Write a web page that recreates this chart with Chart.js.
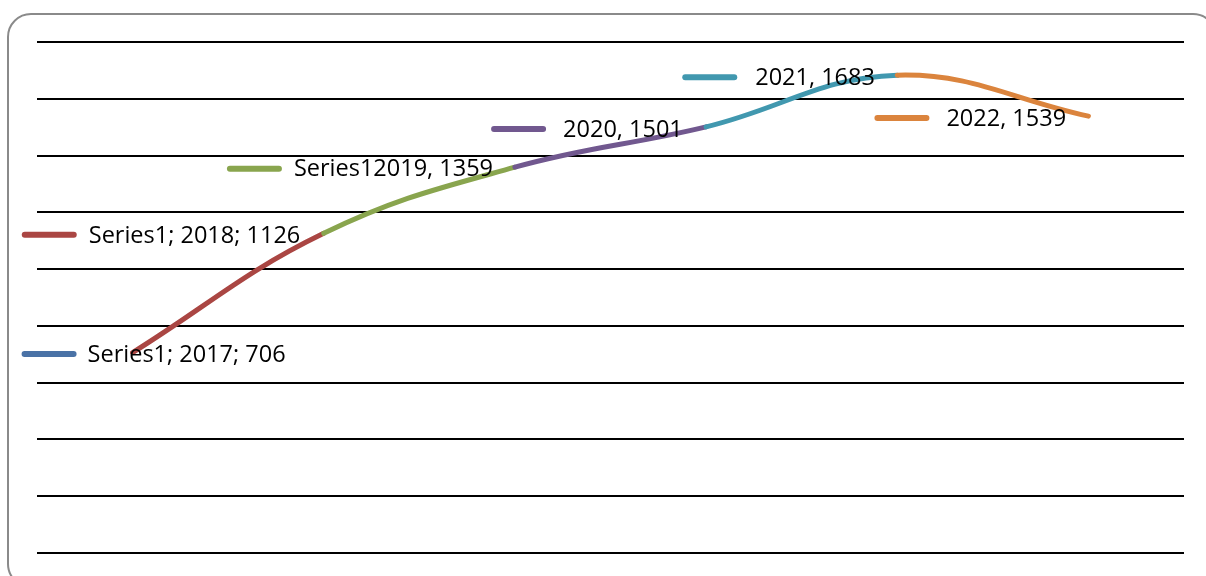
<!DOCTYPE html>
<html>
<head>
<meta charset="utf-8">
<script src="https://cdn.jsdelivr.net/npm/chart.js@4/dist/chart.umd.min.js"></script>
<style>
  html, body { margin: 0; padding: 0; background: #fff; overflow: hidden; }
  #wrap { position: relative; width: 1206px; height: 576px; }
  #frame { position: absolute; left: 7px; top: 13px; width: 1210px; height: 575px;
           border: 2px solid #8a8a8a; border-radius: 24px; box-sizing: border-box; }
  canvas { position: absolute; left: 0; top: 0; }
</style>
</head>
<body>
<div id="wrap">
  <div id="frame"></div>
  <canvas id="c" width="1206" height="576"></canvas>
</div>
<script>
// ---- data ----
const categories = ['2017', '2018', '2019', '2020', '2021', '2022'];
const values = [706, 1126, 1359, 1501, 1683, 1539];
const labelTexts = ['Series1; 2017; 706', 'Series1; 2018; 1126', 'Series12019, 1359', '2020, 1501', '2021, 1683', '2022, 1539'];
const pointColors = ['#4a72a6', '#aa4643', '#89a54e', '#71588f', '#4198af', '#db843d'];
const yMin = 0, yMax = 1800, yStep = 200;

// ---- label layout (pixel offsets from each point) ----
const labelLayout = [
  { dash: -108, text: -45, dy: 1.5 },
  { dash: -299, text: -235, dy: 1.5 },
  { dash: -285, text: -221, dy: 1.5 },
  { dash: -212, text: -143, dy: 2 },
  { dash: -212, text: -142, dy: 2 },
  { dash: -211, text: -142, dy: 2 }
];
const dashLen = 49;

const labelPlugin = {
  id: 'excelLabels',
  afterDatasetsDraw(chart) {
    const ctx = chart.ctx;
    const meta = chart.getDatasetMeta(0);
    ctx.save();
    meta.data.forEach((pt, i) => {
      const L = labelLayout[i];
      const y = pt.y + L.dy;
      ctx.beginPath();
      ctx.strokeStyle = pointColors[i];
      ctx.lineWidth = 6;
      ctx.lineCap = 'round';
      ctx.moveTo(pt.x + L.dash, y);
      ctx.lineTo(pt.x + L.dash + dashLen, y);
      ctx.stroke();
      ctx.fillStyle = '#000';
      ctx.font = '23.5px "Open Sans", sans-serif';
      ctx.textBaseline = 'middle';
      ctx.textAlign = 'left';
      ctx.fillText(labelTexts[i], pt.x + L.text, y + 1);
    });
    ctx.restore();
  }
};

new Chart(document.getElementById('c'), {
  type: 'line',
  data: {
    labels: categories,
    datasets: [{
      data: values,
      borderWidth: 5,
      borderCapStyle: 'round',
      borderJoinStyle: 'round',
      tension: 0.4,
      pointRadius: 0,
      pointHoverRadius: 0,
      fill: false,
      borderColor: pointColors[1],
      segment: {
        borderColor: c => pointColors[c.p1DataIndex]
      }
    }]
  },
  options: {
    responsive: false,
    animation: false,
    events: [],
    layout: { padding: { left: 37, right: 22, top: 42, bottom: 23 } },
    plugins: { legend: { display: false }, tooltip: { enabled: false } },
    scales: {
      x: { display: false, offset: true },
      y: {
        min: yMin, max: yMax,
        ticks: { display: false, stepSize: yStep },
        grid: { color: '#000', lineWidth: 2, drawTicks: false },
        border: { display: false }
      }
    }
  },
  plugins: [labelPlugin]
});
</script>
</body>
</html>
